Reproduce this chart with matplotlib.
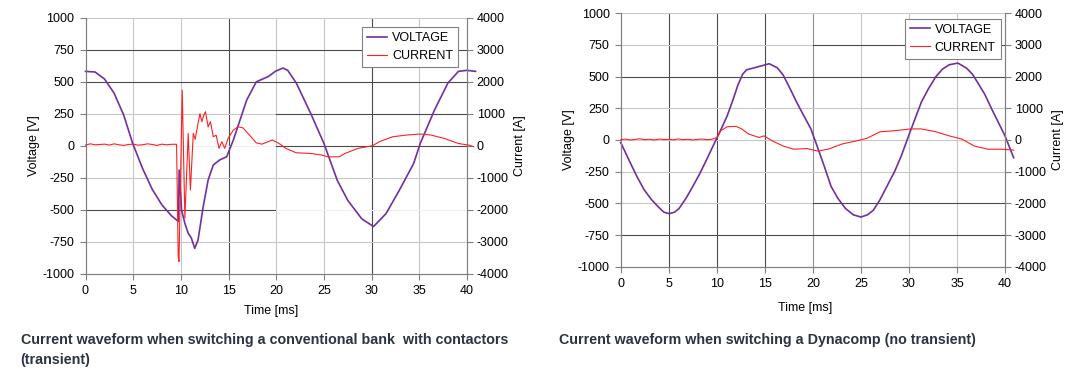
import matplotlib.pyplot as plt

plt.rcParams['font.family'] = ['Liberation Sans', 'DejaVu Sans']
plt.rcParams['axes.unicode_minus'] = False

# ---- left chart: conventional bank with contactors (transient) ----
t_v1 = [0, 1.0, 2.0, 3.0, 4.0, 4.95, 6.0, 7.0, 8.0, 9.0, 9.55, 9.75, 9.82, 10.07,
        10.42, 10.77, 11.1, 11.45, 11.8, 12.34, 12.86, 13.4, 14.06, 14.8, 15.5,
        16.2, 16.9, 17.9, 19.2, 19.9, 20.7, 21.2, 22.1, 23.6, 25.0, 26.4, 27.5,
        28.97, 30.2, 31.5, 32.9, 34.4, 35.1, 36.6, 38.0, 39.1, 40.0, 40.9]
volt1 = [580, 575, 520, 410, 240, 18, -180, -340, -460, -545, -579, -590, -190,
         -500, -605, -682, -720, -800, -735, -475, -267, -150, -111, -86, 44,
         200, 356, 498, 541, 580, 606, 588, 489, 254, 18, -270, -426,
         -570, -630, -530, -348, -139, 18, 280, 489, 580, 588, 580]

t_i1 = [0, 0.5, 1, 1.5, 2, 2.5, 3, 3.5, 4, 4.5, 5, 5.5, 6, 6.5, 7, 7.5, 8, 8.5,
        9, 9.5, 9.55, 9.72, 9.8, 10.14, 10.42, 10.77, 11.0, 11.3, 11.5, 11.8,
        12.0, 12.2, 12.4, 12.58, 12.86, 13.1, 13.4, 13.7, 14.0, 14.3, 14.6,
        14.95, 15.5, 16.0, 16.5, 17.2, 17.9, 18.5, 19.6, 20.3, 21.0, 22.1, 23.6,
        24.8, 25.4, 26.6, 27.2, 28.6, 30.1, 30.8, 32.2, 33.7, 35.1, 36.2, 37.6,
        39.1, 40.2, 40.7]
curr1 = [20, 60, 30, 40, 50, 20, 60, 30, 10, 40, 50, 20, 30, 60, 40, 10, 50, 30,
         45, 45, 45, -3460, -3610, 1735, -2260, 385, -1380, 385, 200, 700,
         1000, 750, 950, 1060, 590, 750, 280, 330, -80, 125, -80,
         230, 490, 590, 560, 330, 90, 50, 180, 70, -80, -220, -240,
         -290, -345, -345, -240, -80, 0, 125, 280, 335, 365, 335, 230,
         70, 20, -30]

# ---- right chart: Dynacomp (no transient) ----
t_v2 = [0, 0.5, 1.0, 1.7, 2.45, 3.2, 3.9, 4.5, 5.05, 5.6, 6.07, 6.8, 7.5, 8.2,
        8.95, 9.5, 10.04, 10.6, 11.1, 11.7, 12.2, 12.7, 13.1, 14.4, 15.45, 16.3,
        16.9, 17.6, 18.3, 19.0, 19.8, 20.5, 21.2, 21.9, 22.6, 23.4, 24.2, 25.0,
        25.7, 26.3, 27.0, 27.7, 28.5, 29.2, 30.1, 30.7, 31.3, 32.0, 32.8, 33.5,
        34.2, 35.1, 36.0, 36.6, 37.1, 37.9, 38.6, 39.3, 40.0, 40.9]
volt2 = [-20, -100, -180, -290, -394, -470, -527, -570, -581, -570, -541, -460,
         -367, -270, -154, -65, 20, 110, 194, 320, 434, 520, 554, 580, 602, 570,
         514, 410, 300, 200, 87, -60, -210, -367, -460, -541, -590, -608,
         -590, -554, -470, -367, -250, -127, 60, 180, 300, 400, 500, 560,
         594, 607, 567, 520, 460, 360, 247, 140, 33, -140]

t_i2 = [0, 0.5, 1, 1.5, 2, 2.5, 3, 3.5, 4, 4.5, 5, 5.5, 6, 6.5, 7, 7.5, 8, 8.5,
        9, 9.5, 10.04, 10.4, 11.1, 12.0, 12.6, 13.3, 14.4, 14.9, 15.8, 16.9,
        18.0, 19.4, 20.5, 21.6, 23.0, 24.5, 25.6, 27.0, 28.4, 30.2, 31.3, 32.8,
        34.2, 35.5, 36.8, 38.2, 39.6, 40.9]
curr2 = [10, 30, 0, 20, 40, 10, 25, 0, 30, 15, 20, 5, 35, 10, 25, 0, 20, 30,
         10, 25, 80, 290, 420, 430, 350, 190, 80, 130, -30, -190,
         -290, -270, -350, -290, -130, -30, 50, 260, 290, 350, 350, 260,
         130, 30, -190, -290, -290, -320]

x_ticks = [0, 5, 10, 15, 20, 25, 30, 35, 40]
v_ticks = [-1000, -750, -500, -250, 0, 250, 500, 750, 1000]
i_ticks = [-4000, -3000, -2000, -1000, 0, 1000, 2000, 3000, 4000]

DARK, LIGHT, MID = '#4a4a4a', '#c8c8c8', '#909090'
PURPLE, RED = '#7030a0', '#ff2020'

fig = plt.figure(figsize=(10.82, 3.76), dpi=100)


def make_chart(rect, t_v, v, t_i, i, vgrid, hgrid, leg_anchor):
    ax = fig.add_axes(rect)
    ax.set_xlim(0, 40)
    ax.set_ylim(-1000, 1000)
    ax.set_xticks(x_ticks)
    ax.set_yticks(v_ticks)
    for xv, c in vgrid:
        ax.axvline(xv, color=c, lw=0.8, zorder=0)
    for yv, a, b, c in hgrid:
        ax.axhline(yv, a, b, color=c, lw=0.8, zorder=0)
    ax.spines['top'].set_visible(False)
    for s in ['left', 'bottom', 'right']:
        ax.spines[s].set_color('#808080')
        ax.spines[s].set_linewidth(0.8)
    ax.tick_params(labelsize=9, length=4, width=0.8, color='#808080', pad=4)
    ax.set_ylabel('Voltage [V]', fontsize=9, labelpad=2)
    lv, = ax.plot(t_v, v, color=PURPLE, lw=1.2, clip_on=False, zorder=3)

    ax2 = ax.twinx()
    ax2.set_ylim(-4000, 4000)
    ax2.set_yticks(i_ticks)
    ax2.spines['top'].set_visible(False)
    for s in ['left', 'bottom', 'right']:
        ax2.spines[s].set_color('#808080')
        ax2.spines[s].set_linewidth(0.8)
    ax2.tick_params(labelsize=9, length=4, width=0.8, color='#808080', pad=3)
    ax2.set_ylabel('Current [A]', fontsize=9, labelpad=4)
    li, = ax2.plot(t_i, i, color=RED, lw=0.8, clip_on=False, zorder=4)

    leg = ax2.legend([lv, li], ['VOLTAGE', 'CURRENT'], loc='upper right',
                     bbox_to_anchor=leg_anchor, borderaxespad=0, fontsize=9,
                     fancybox=False, framealpha=1, edgecolor='#808080',
                     handlelength=1.6, handletextpad=0.4, borderpad=0.4,
                     labelspacing=0.5)
    leg.get_frame().set_linewidth(0.8)
    return ax, ax2


# left chart
vg1 = [(5, LIGHT), (10, LIGHT), (15, DARK), (20, LIGHT), (25, LIGHT), (30, DARK), (35, LIGHT)]
hg1 = [(1000, 0, 1, LIGHT), (750, 0, 1, DARK), (500, 0, 1, DARK),
       (250, 0, 0.5, LIGHT), (250, 0.5, 1, DARK), (0, 0, 0.5, '#eeeeee'), (0, 0.5, 1, DARK),
       (-250, 0, 1, LIGHT), (-500, 0, 0.5, DARK), (-500, 0.5, 1, '#eeeeee'),
       (-750, 0, 1, LIGHT)]
make_chart([85.5 / 1082, (376 - 274) / 376, 381.5 / 1082, 256.5 / 376],
           t_v1, volt1, t_i1, curr1, vg1, hg1, (0.977, 0.962))

# right chart
vg2 = [(5, DARK), (10, DARK), (15, DARK), (20, MID), (25, LIGHT), (30, LIGHT), (35, LIGHT)]
hg2 = [(1000, 0, 1, LIGHT), (750, 0, 0.5, LIGHT), (750, 0.5, 1, DARK), (500, 0, 1, DARK),
       (250, 0, 1, LIGHT), (0, 0, 1, LIGHT), (-250, 0, 1, LIGHT),
       (-500, 0, 0.5, LIGHT), (-500, 0.5, 1, DARK), (-750, 0, 1, DARK)]
make_chart([620.7 / 1082, (376 - 266.7) / 376, 384.3 / 1082, 253.4 / 376],
           t_v2, volt2, t_i2, curr2, vg2, hg2, (0.989, 0.979))

fig.text(271 / 1082, 1 - 310.7 / 376, 'Time [ms]', fontsize=9, ha='center', va='center')
fig.text(805 / 1082, 1 - 307.7 / 376, 'Time [ms]', fontsize=9, ha='center', va='center')

cap_col = '#2b3440'
fig.text(20.7 / 1082, 1 - 340 / 376,
         'Current waveform when switching a conventional bank  with contactors',
         fontsize=10.3, fontweight='bold', color=cap_col, va='center')
fig.text(20.7 / 1082, 1 - 360 / 376, '(transient)',
         fontsize=10.3, fontweight='bold', color=cap_col, va='center')
fig.text(559 / 1082, 1 - 340 / 376,
         'Current waveform when switching a Dynacomp (no transient)',
         fontsize=10.3, fontweight='bold', color=cap_col, va='center')

fig.savefig('out.png', dpi=100)
